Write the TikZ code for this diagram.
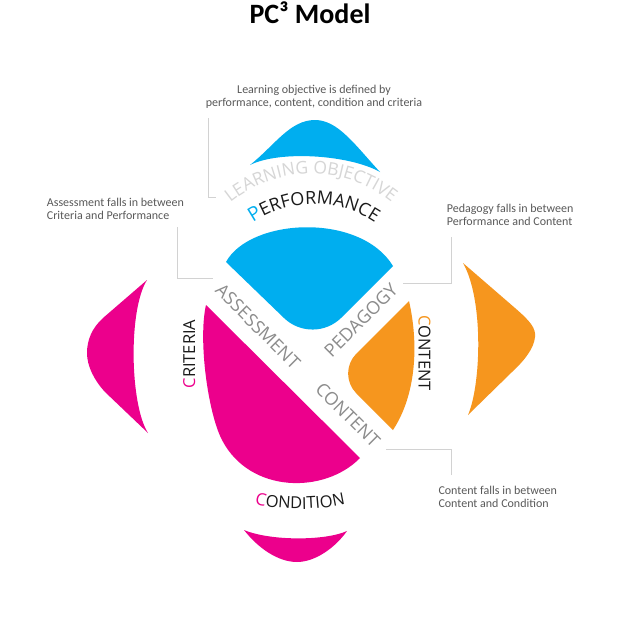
\documentclass[tikz,border=0pt]{standalone}
\usepackage{fontspec}
\setmainfont{Carlito}
\newfontfamily\labfont{Open Sans}
\newfontfamily\annfont{Carlito}
\usetikzlibrary{decorations.text}
\definecolor{pblue}{RGB}{0,174,239}
\definecolor{pmag}{RGB}{236,0,140}
\definecolor{porange}{RGB}{246,150,30}
\definecolor{anngray}{RGB}{89,89,89}
\definecolor{linegray}{RGB}{210,210,210}
\definecolor{midgray}{RGB}{140,140,140}
\definecolor{lightlab}{RGB}{214,214,214}
\definecolor{labblack}{RGB}{26,26,26}
\newcommand{\outerfnt}{\labfont\fontsize{16.5}{16.5}\selectfont}
\newcommand{\innerfnt}{\labfont\fontsize{18}{18}\selectfont}
\begin{document}
\begin{tikzpicture}[x=1pt,y=1pt,
  ann/.style={font=\annfont\fontsize{12}{13}\selectfont, text=anngray, inner sep=0pt},
  callout/.style={draw=linegray, line width=0.9pt},
  outerlab/.style={font=\outerfnt, text=labblack, inner sep=0pt},
  innerlab/.style={font=\innerfnt, text=midgray, inner sep=0pt}]
\fill[white] (0,0) rectangle (630,-632);
\useasboundingbox (0,0) rectangle (630,-632);

% title
\node[anchor=base, inner sep=0pt, font=\annfont\bfseries\fontsize{28}{28}\selectfont] (title) at (310,-23.3) {PC³ Model};

% central pieces
\fill[pblue] (226,-262) .. controls (250,-218) and (360,-212) .. (393,-266)
  -- (341.3,-317.7) .. controls (325.7,-333.3) and (300.1,-333.5) .. (284.2,-318.2) -- cycle;
\fill[porange] (409,-301) .. controls (419,-345) and (416,-395) .. (393,-430)
  -- (356.3,-393.3) .. controls (345.4,-382.4) and (345.4,-364.6) .. (356.3,-353.7) -- cycle;
\fill[pmag] (206,-305) -- (360,-458) .. controls (325,-494) and (250,-494) .. (222,-440)
  .. controls (208,-413) and (198,-340) .. (206,-305) -- cycle;

% outer petals
\fill[pblue] (250,-165) .. controls (275,-145) and (290,-120) .. (315,-120)
  .. controls (338,-120) and (355,-145) .. (380,-172)
  .. controls (350,-155) and (280,-150) .. (250,-165) -- cycle;
\fill[pmag] (147,-280) -- (103,-318) .. controls (92,-328) and (87,-340) .. (87,-353)
  .. controls (87,-366) and (94,-380) .. (105,-392) -- (148,-433)
  .. controls (130,-405) and (128,-310) .. (147,-280) -- cycle;
\fill[porange] (463,-263) -- (515,-308) .. controls (530,-321) and (536,-328) .. (535,-337)
  .. controls (534,-348) and (525,-360) .. (512,-372) -- (468,-415)
  .. controls (481,-385) and (484,-300) .. (463,-263) -- cycle;
\fill[pmag] (244,-530) .. controls (270,-541) and (325,-541) .. (347,-531)
  .. controls (335,-548) and (315,-562) .. (297,-562)
  .. controls (278,-562) and (258,-548) .. (244,-530) -- cycle;

% curved labels
\path[shift={(311,-302)}, decorate, decoration={text along path, text align=center,
  text={|\labfont\fontsize{17.5}{17.5}\selectfont\color{lightlab}|LEARNING OBJECTIVE}}]
  (145:128) arc[start angle=145, end angle=35, radius=128];
\path[shift={(314,-312)}, decorate, decoration={text along path, text align=center,
  text={|\labfont\fontsize{19.5}{19.5}\selectfont\color{pblue}|P|\labfont\fontsize{18}{18}\selectfont\color{labblack}|ERFORMANCE}}]
  (145:108) arc[start angle=145, end angle=35, radius=108];
\path[shift={(300,-301)}, decorate, decoration={text along path, text align=center,
  text={|\labfont\fontsize{17}{17}\selectfont\color{pmag}|C|\labfont\fontsize{16.5}{16.5}\selectfont\color{labblack}|ONDITION}}]
  (-110:208) arc[start angle=-110, end angle=-70, radius=208];

% straight labels
\node[outerlab, rotate=90, anchor=base] (crit) at (195,-354) {\textcolor{pmag}{C}RITERIA};
\node[outerlab, rotate=-90, anchor=base] (cont) at (418.5,-353) {\textcolor{porange}{C}ONTENT};
\node[innerlab, rotate=-45] (assess) at (258,-326.5) {ASSESSMENT};
\node[innerlab, rotate=45] (peda) at (361,-320) {PEDAGOGY};
\node[innerlab, rotate=-45] (icont) at (348,-415) {CONTENT};

% annotations
\node[ann, anchor=base] (annlo) at (314,-93.3) {\begin{tabular}[t]{@{}c@{}}Learning objective is defined by\\performance, content, condition and criteria\end{tabular}};
\node[ann, anchor=base west] (annas) at (46.7,-206.7) {\begin{tabular}[t]{@{}l@{}}Assessment falls in between\\Criteria and Performance\end{tabular}};
\node[ann, anchor=base west] (annpe) at (446.7,-212.7) {\begin{tabular}[t]{@{}l@{}}Pedagogy falls in between\\Performance and Content\end{tabular}};
\node[ann, anchor=base west] (annco) at (438.3,-494.3) {\begin{tabular}[t]{@{}l@{}}Content falls in between\\Content and Condition\end{tabular}};

% callout lines
\coordinate (loA) at (208,-118); \coordinate (loB) at (208,-197); \coordinate (loC) at (216,-197);
\draw[callout] (loA) -- (loB) -- (loC);
\coordinate (asA) at (177,-227); \coordinate (asB) at (177,-278); \coordinate (asC) at (213,-278);
\draw[callout] (asA) -- (asB) -- (asC);
\coordinate (peA) at (451,-237); \coordinate (peB) at (451,-283); \coordinate (peC) at (403,-283);
\draw[callout] (peA) -- (peB) -- (peC);
\coordinate (coA) at (451,-475); \coordinate (coB) at (451,-449); \coordinate (coC) at (386,-449);
\draw[callout] (coA) -- (coB) -- (coC);
\end{tikzpicture}
\end{document}
